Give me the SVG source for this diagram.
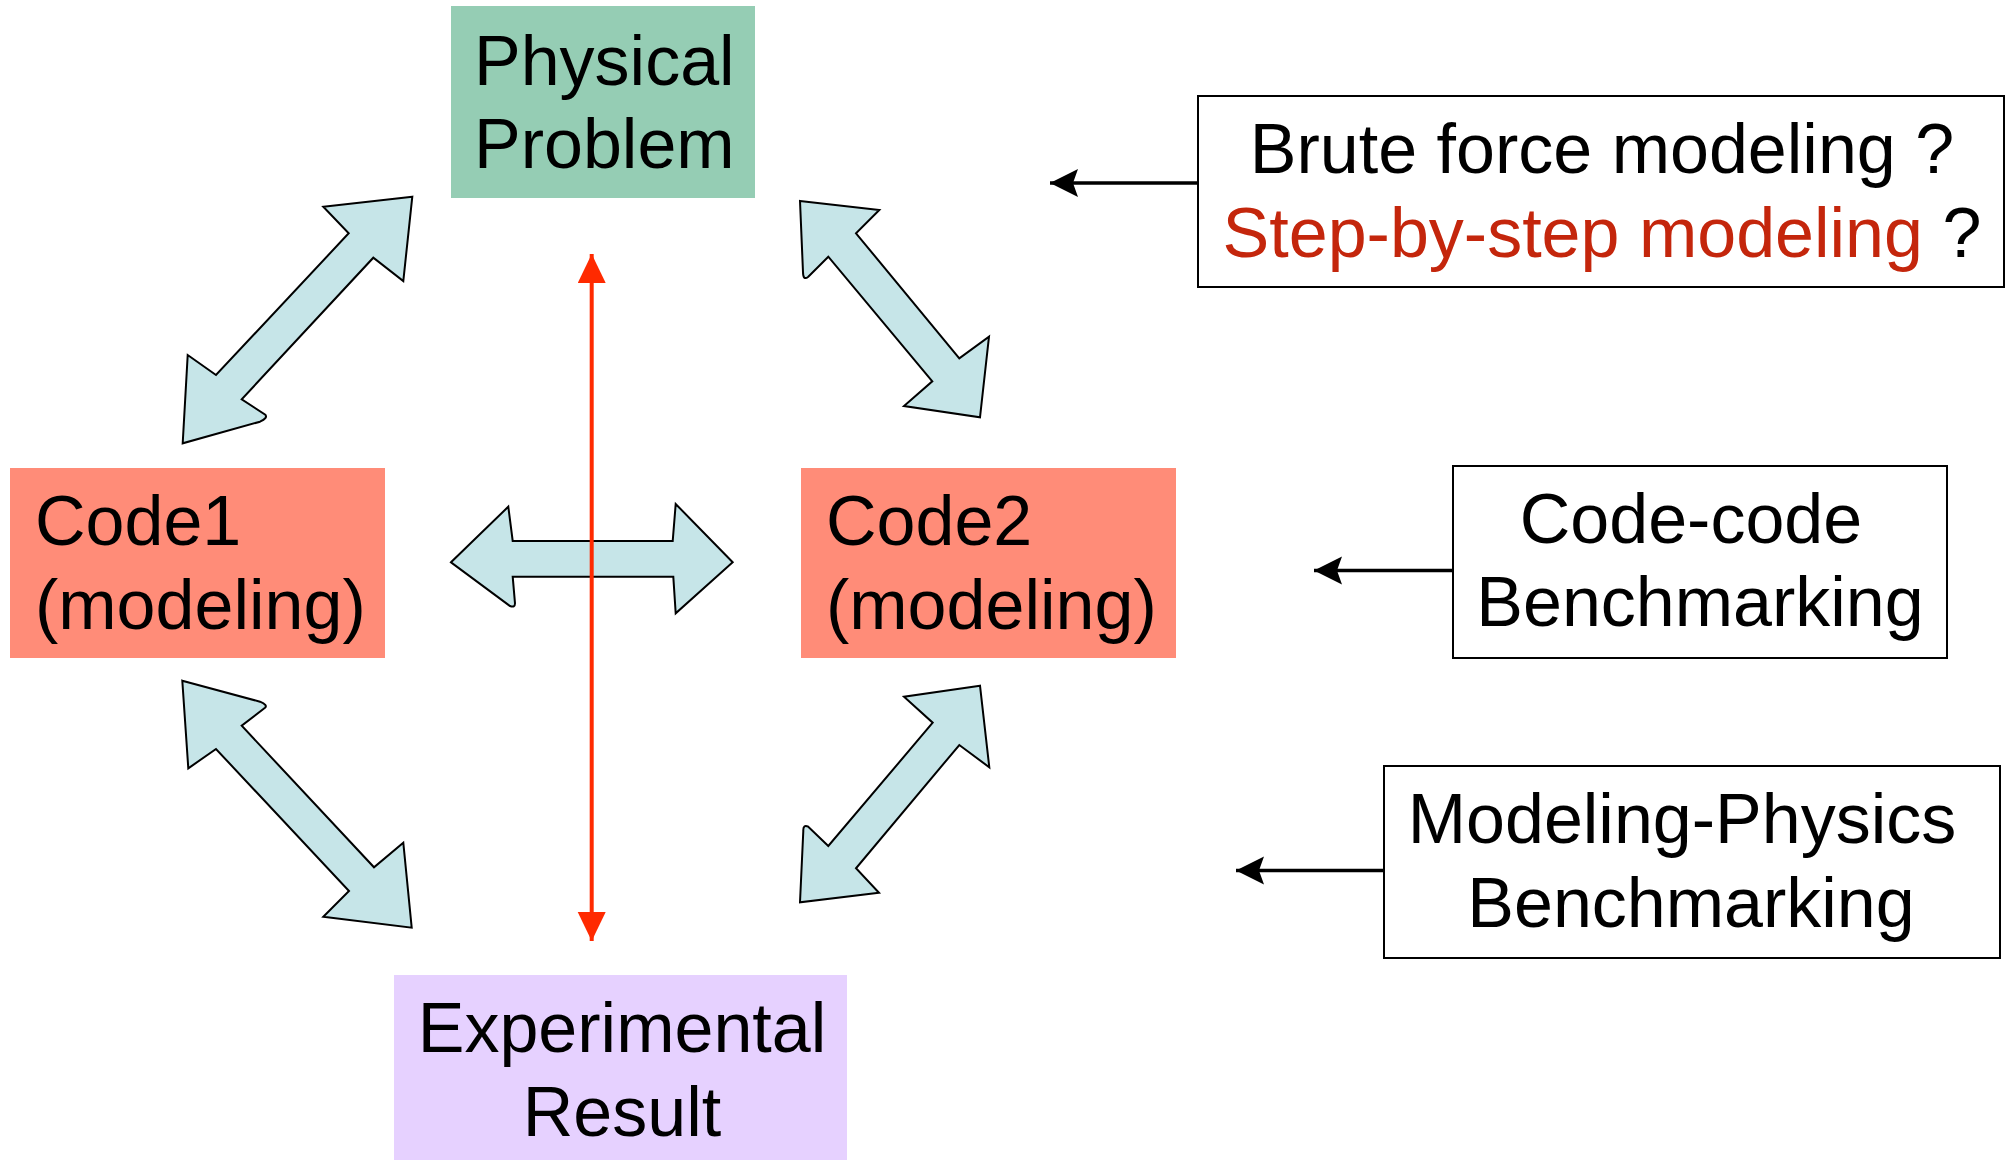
<svg xmlns="http://www.w3.org/2000/svg" width="2007" height="1160" viewBox="0 0 2007 1160">
<style>
text{font-family:"Liberation Sans",Arial,sans-serif;font-size:70px;fill:#000}
.mid{text-anchor:middle}
.red{fill:#C4260C}
.block{fill:#C6E5E8;stroke:#000;stroke-width:2;stroke-linejoin:miter}
.note{fill:#fff;stroke:#000;stroke-width:2}
.ptr{stroke:#000;stroke-width:3.5;fill:none}
.redline{stroke:#FF2A00;stroke-width:4;fill:none}
</style>
<defs>
<marker id="blackHead" markerUnits="userSpaceOnUse" markerWidth="30" markerHeight="30" refX="28" refY="14" orient="auto">
<path d="M0,0 L28,14 L0,28 L5,14 Z" fill="#000"/>
</marker>
<marker id="redHead" markerUnits="userSpaceOnUse" markerWidth="30" markerHeight="30" refX="29" refY="14" orient="auto-start-reverse">
<path d="M0,0 L29,14 L0,28 Z" fill="#FF2A00"/>
</marker>
</defs>
<rect width="2007" height="1160" fill="#fff"/>

<g id="connectors">
<path class="block" d="M412.3,196.7 L323.3,206.7 L348.7,233.3 L216,375 L187.7,355 L182.7,443.3 L260,421.7 Q268,418 265.3,414.7 L241.7,399.3 L373.3,257.7 L403.3,281 Z"/>
<path class="block" d="M800,201 L879.3,210 L856,233.3 L959.3,358.3 L989,336.7 L980,417.3 L904,406 L932.3,381.3 L828.3,256.7 L808.3,276.7 Q803,281 803,272 Z"/>
<path class="block" d="M451,562.3 L508.3,506.7 L512.7,541 L672.7,541 L675.7,504 L732.7,562.3 L675.7,613.3 L673.3,576.7 L512.7,576.7 L515,603.3 Q515,608 510,606 Z"/>
<path class="block" d="M182.3,680.7 L260,701.7 Q268,705 265,707.7 L241.7,725.7 L374,867.3 L403.3,842.7 L411.7,927.7 L323.3,916.7 L349,891 L216,749 L188.3,768.3 Z"/>
<path class="block" d="M980,685.7 L904,696.7 L932.7,722.7 L828.3,846 L808.3,826.7 Q803,824 803.3,831 L800,902.3 L879,892.7 L856,868.3 L959.3,745 L989.3,767.3 Z"/>
<line class="redline" x1="591.7" y1="254" x2="591.7" y2="941" marker-start="url(#redHead)" marker-end="url(#redHead)"/>
<line class="ptr" x1="1198" y1="183" x2="1050" y2="183" marker-end="url(#blackHead)"/>
<line class="ptr" x1="1453" y1="570.5" x2="1314" y2="570.5" marker-end="url(#blackHead)"/>
<line class="ptr" x1="1384" y1="870.5" x2="1236" y2="870.5" marker-end="url(#blackHead)"/>
</g>

<g id="physical-problem">
<rect x="451" y="6" width="304" height="192" fill="#95CDB4"/>
<text x="474" y="85">Physical</text>
<text x="474" y="168">Problem</text>
</g>

<g id="code1">
<rect x="10" y="468" width="375" height="190" fill="#FF8C78"/>
<text x="35" y="545">Code1</text>
<text x="35" y="629">(modeling)</text>
</g>

<g id="code2">
<rect x="801" y="468" width="375" height="190" fill="#FF8C78"/>
<text x="826" y="545">Code2</text>
<text x="826" y="629">(modeling)</text>
</g>

<g id="experimental-result">
<rect x="394" y="975" width="453" height="185" fill="#E6D1FF"/>
<text class="mid" x="622" y="1052">Experimental</text>
<text class="mid" x="622" y="1136">Result</text>
</g>

<g id="modeling-question">
<rect class="note" x="1198" y="96" width="806" height="191"/>
<text class="mid" x="1602" y="173">Brute force modeling ?</text>
<text class="mid" x="1602" y="257"><tspan class="red">Step-by-step modeling</tspan> ?</text>
</g>

<g id="code-code">
<rect class="note" x="1453" y="466" width="494" height="192"/>
<text class="mid" x="1691" y="543">Code-code</text>
<text class="mid" x="1700" y="626">Benchmarking</text>
</g>

<g id="modeling-physics">
<rect class="note" x="1384" y="766" width="616" height="192"/>
<text class="mid" x="1682" y="843">Modeling-Physics</text>
<text class="mid" x="1691" y="927">Benchmarking</text>
</g>
</svg>
